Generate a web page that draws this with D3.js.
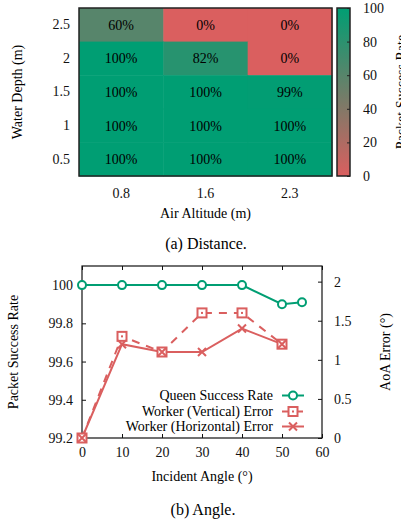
<!DOCTYPE html>
<html>
<head>
<meta charset="utf-8">
<script src="https://cdn.jsdelivr.net/npm/d3@7"></script>
<style>
    body { margin: 0; background: #fff; }
</style>
</head>
<body>
<svg id="vis" width="401" height="524" font-family="'Liberation Serif', 'Times New Roman', 'DejaVu Serif', serif"></svg>
<script>
// ---- data: (a) heatmap ----
const altitudes = ["0.8", "1.6", "2.3"];
const depths = ["2.5", "2", "1.5", "1", "0.5"];          // top to bottom
const successGrid = [                                      // rows follow depths
    [60, 0, 0],
    [100, 82, 0],
    [100, 100, 99],
    [100, 100, 100],
    [100, 100, 100]
];
const colorbarTicks = [0, 20, 40, 60, 80, 100];

// ---- data: (b) angle ----
const queenAngles = [0, 10, 20, 30, 40, 50, 55];
const queenRate = [100, 100, 100, 100, 100, 99.9, 99.91];
const workerAngles = [0, 10, 20, 30, 40, 50];
const verticalErr = [0, 1.3, 1.1, 1.6, 1.6, 1.2];
const horizontalErr = [0, 1.2, 1.1, 1.1, 1.4, 1.2];
const angleTicks = [0, 10, 20, 30, 40, 50, 60];
const rateTicks = [99.2, 99.4, 99.6, 99.8, 100];
const errTicks = [0, 0.5, 1, 1.5, 2];

const GREEN = "#009E73";
const RED = "#DA5F5F";
const FONT = 14;
const SERIF = "'Liberation Serif', 'Times New Roman', 'DejaVu Serif', serif";

const svg = d3.select("#vis");

// d3 axes put their own sans-serif font on the group, so set it back
function serifText(sel){
    sel.attr("font-family", SERIF).style("font-family", SERIF);
}

/**
 * heatmap of packet success rate, with colour bar on the right
 */
function drawHeatmap(){
    const box = {left: 79, right: 332, top: 8, bottom: 176};

    const x = d3.scaleBand().domain(altitudes).range([box.left, box.right]);
    const y = d3.scaleBand().domain(depths).range([box.top, box.bottom]);
    const color = d3.scaleLinear().domain([0, 100]).range([RED, GREEN]).interpolate(d3.interpolateRgb);

    const cells = [];
    depths.forEach(function(d, i){
        altitudes.forEach(function(a, j){
            cells.push({depth: d, alt: a, v: successGrid[i][j]});
        });
    });

    const g = svg.append("g");
    g.selectAll("rect.cell")
        .data(cells)
        .enter()
        .append("rect")
        .attr("class", "cell")
        .attr("x", d => x(d.alt))
        .attr("y", d => y(d.depth))
        .attr("width", x.bandwidth() + 0.5)
        .attr("height", y.bandwidth() + 0.5)
        .style("fill", d => color(d.v));

    g.selectAll("text.val")
        .data(cells)
        .enter()
        .append("text")
        .attr("x", d => x(d.alt) + x.bandwidth() / 2)
        .attr("y", d => y(d.depth) + y.bandwidth() / 2 + 5)
        .attr("text-anchor", "middle")
        .style("font-size", FONT + "px")
        .text(d => d.v + "%");

    g.append("rect")
        .attr("x", box.left).attr("y", box.top)
        .attr("width", box.right - box.left).attr("height", box.bottom - box.top)
        .style("fill", "none").style("stroke", "#222").style("stroke-width", 1.5);

    // axes without tick marks
    const xAxis = d3.axisBottom(x).tickSize(0).tickPadding(12);
    g.append("g").attr("transform", `translate(0, ${box.bottom})`).call(xAxis)
        .call(s => s.select(".domain").remove())
        .call(serifText)
        .selectAll("text").style("font-size", FONT + "px").attr("fill", "#111");
    const yAxis = d3.axisLeft(y).tickSize(0).tickPadding(9);
    g.append("g").attr("transform", `translate(${box.left}, 0)`).call(yAxis)
        .call(s => s.select(".domain").remove())
        .call(serifText)
        .selectAll("text").style("font-size", FONT + "px").attr("fill", "#111");

    g.append("text")
        .attr("x", (box.left + box.right) / 2).attr("y", 218)
        .attr("text-anchor", "middle").style("font-size", FONT + "px")
        .text("Air Altitude (m)");
    g.append("text")
        .attr("transform", `translate(22, ${(box.top + box.bottom) / 2}) rotate(-90)`)
        .attr("text-anchor", "middle").style("font-size", FONT + "px")
        .text("Water Depth (m)");

    // colour bar
    const cb = {left: 337, right: 350};
    const cbScale = d3.scaleLinear().domain([0, 100]).range([box.bottom, box.top]);
    const grad = svg.append("defs").append("linearGradient")
        .attr("id", "cbgrad").attr("x1", 0).attr("y1", 1).attr("x2", 0).attr("y2", 0);
    grad.append("stop").attr("offset", 0).attr("stop-color", color(0));
    grad.append("stop").attr("offset", 1).attr("stop-color", color(100));
    g.append("rect")
        .attr("x", cb.left).attr("y", box.top)
        .attr("width", cb.right - cb.left).attr("height", box.bottom - box.top)
        .style("fill", "url(#cbgrad)").style("stroke", "#222").style("stroke-width", 1.5);
    const cbAxis = d3.axisLeft(cbScale).tickValues(colorbarTicks).tickSize(3).tickPadding(-16);
    g.append("g").attr("transform", `translate(${cb.right}, 0)`).call(cbAxis)
        .call(s => s.select(".domain").remove())
        .call(s => s.selectAll("line").style("stroke", "#222"))
        .call(serifText)
        .selectAll("text").attr("text-anchor", "start").style("font-size", FONT + "px").attr("fill", "#111");
    g.append("text")
        .attr("transform", `translate(406, ${(box.top + box.bottom) / 2}) rotate(-90)`)
        .attr("text-anchor", "middle").style("font-size", FONT + "px")
        .text("Packet Success Rate");

    svg.append("text")
        .attr("x", 206).attr("y", 249)
        .attr("text-anchor", "middle").style("font-size", "16px")
        .text("(a)  Distance.");
}

/**
 * line chart of success rate and AoA error versus incident angle
 */
function drawAngle(){
    const box = {left: 82, right: 322, top: 266, bottom: 438};

    const x = d3.scaleLinear().domain([0, 60]).range([box.left, box.right]);
    const yL = d3.scaleLinear().domain([99.2, 100.1]).range([box.bottom, box.top]);
    const yR = d3.scaleLinear().domain([0, 2.2]).range([box.bottom, box.top]);

    const g = svg.append("g");

    g.append("rect")
        .attr("x", box.left).attr("y", box.top)
        .attr("width", box.right - box.left).attr("height", box.bottom - box.top)
        .style("fill", "none").style("stroke", "#111").style("stroke-width", 1.2);

    // ticks point inward, x ticks mirrored on top
    const styleAxis = function(s){
        s.select(".domain").remove();
        s.selectAll("line").style("stroke", "#111");
        serifText(s);
        s.selectAll("text").style("font-size", FONT + "px").attr("fill", "#111");
    };
    g.append("g").attr("transform", `translate(0, ${box.bottom})`)
        .call(d3.axisBottom(x).tickValues(angleTicks).tickSize(-4).tickPadding(9))
        .call(styleAxis);
    g.append("g").attr("transform", `translate(0, ${box.top})`)
        .call(d3.axisTop(x).tickValues(angleTicks).tickSize(-4).tickFormat(""))
        .call(styleAxis);
    g.append("g").attr("transform", `translate(${box.left}, 0)`)
        .call(d3.axisLeft(yL).tickValues(rateTicks).tickSize(-4).tickPadding(9).tickFormat(d3.format("")))
        .call(styleAxis);
    g.append("g").attr("transform", `translate(${box.right}, 0)`)
        .call(d3.axisRight(yR).tickValues(errTicks).tickSize(-4).tickPadding(12).tickFormat(d3.format("")))
        .call(styleAxis);

    g.append("text")
        .attr("x", (box.left + box.right) / 2).attr("y", 481)
        .attr("text-anchor", "middle").style("font-size", FONT + "px")
        .text("Incident Angle (°)");
    g.append("text")
        .attr("transform", `translate(18, ${(box.top + box.bottom) / 2}) rotate(-90)`)
        .attr("text-anchor", "middle").style("font-size", FONT + "px")
        .text("Packet Success Rate");
    g.append("text")
        .attr("transform", `translate(390, ${(box.top + box.bottom) / 2}) rotate(-90)`)
        .attr("text-anchor", "middle").style("font-size", FONT + "px")
        .text("AoA Error (°)");

    const queen = queenAngles.map((a, i) => ({x: x(a), y: yL(queenRate[i])}));
    const vert = workerAngles.map((a, i) => ({x: x(a), y: yR(verticalErr[i])}));
    const horz = workerAngles.map((a, i) => ({x: x(a), y: yR(horizontalErr[i])}));
    const line = d3.line().x(d => d.x).y(d => d.y);

    g.append("path").datum(vert).attr("d", line)
        .style("fill", "none").style("stroke", RED).style("stroke-width", 2)
        .style("stroke-dasharray", "8,7");
    g.append("path").datum(horz).attr("d", line)
        .style("fill", "none").style("stroke", RED).style("stroke-width", 2);
    g.append("path").datum(queen).attr("d", line)
        .style("fill", "none").style("stroke", GREEN).style("stroke-width", 2);

    drawSquares(g, vert);
    drawCrosses(g, horz);
    drawCircles(g, queen);

    // legend
    const legend = [
        {label: "Queen Success Rate", y: 400, kind: "circle"},
        {label: "Worker (Vertical) Error", y: 416, kind: "square"},
        {label: "Worker (Horizontal) Error", y: 431, kind: "cross"}
    ];
    legend.forEach(function(l){
        g.append("text")
            .attr("x", 273).attr("y", l.y)
            .attr("text-anchor", "end").style("font-size", FONT + "px")
            .text(l.label);
        const cy = l.y - 4.5;
        const s = g.append("line")
            .attr("x1", 282).attr("x2", 304).attr("y1", cy).attr("y2", cy)
            .style("stroke", l.kind === "circle" ? GREEN : RED).style("stroke-width", 2);
        if(l.kind === "square") s.style("stroke-dasharray", "6,9");
        const pt = [{x: 293, y: cy}];
        if(l.kind === "circle") drawCircles(g, pt);
        if(l.kind === "square") drawSquares(g, pt);
        if(l.kind === "cross") drawCrosses(g, pt);
    });

    svg.append("text")
        .attr("x", 203).attr("y", 515)
        .attr("text-anchor", "middle").style("font-size", "16px")
        .text("(b)  Angle.");
}

function drawCircles(g, pts){
    g.selectAll(null).data(pts).enter().append("circle")
        .attr("cx", d => d.x).attr("cy", d => d.y).attr("r", 4)
        .style("fill", "#fff").style("stroke", GREEN).style("stroke-width", 2);
}

function drawSquares(g, pts){
    g.selectAll(null).data(pts).enter().append("rect")
        .attr("x", d => d.x - 4.5).attr("y", d => d.y - 4.5)
        .attr("width", 9).attr("height", 9)
        .style("fill", "#fff").style("stroke", RED).style("stroke-width", 2);
    g.selectAll(null).data(pts).enter().append("rect")
        .attr("x", d => d.x - 1).attr("y", d => d.y - 1)
        .attr("width", 2).attr("height", 2)
        .style("fill", RED);
}

function drawCrosses(g, pts){
    const r = 4;
    g.selectAll(null).data(pts).enter().append("path")
        .attr("d", d => `M${d.x - r},${d.y - r}L${d.x + r},${d.y + r}M${d.x - r},${d.y + r}L${d.x + r},${d.y - r}`)
        .style("stroke", RED).style("stroke-width", 2);
}

drawHeatmap();
drawAngle();
</script>
</body>
</html>
